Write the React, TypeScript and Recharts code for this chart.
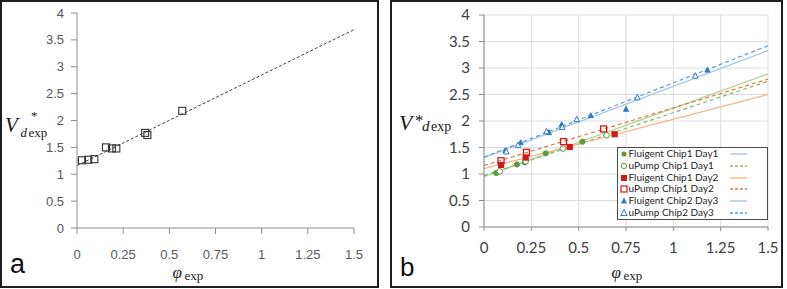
import React from 'react';
import { ComposedChart, Scatter, Line, XAxis, YAxis, CartesianGrid, Legend } from 'recharts';

// ---------- Panel a data ----------
const phiA = [0.027, 0.061, 0.094, 0.157, 0.189, 0.213, 0.369, 0.381, 0.57];
const vA = [1.26, 1.27, 1.28, 1.5, 1.48, 1.48, 1.77, 1.73, 2.18];
const fitA = [
  { x: 0, y: 1.16 },
  { x: 1.5, y: 3.69 },
];

// ---------- Panel b data ----------
const fc1d1X = [0.065, 0.174, 0.215, 0.326, 0.52];
const fc1d1Y = [1.02, 1.18, 1.22, 1.39, 1.61];
const uc1d1X = [0.083, 0.22, 0.417, 0.647];
const uc1d1Y = [1.05, 1.24, 1.48, 1.73];
const fc1d2X = [0.09, 0.22, 0.453, 0.69];
const fc1d2Y = [1.17, 1.31, 1.51, 1.75];
const uc1d2X = [0.09, 0.224, 0.42, 0.632];
const uc1d2Y = [1.25, 1.41, 1.61, 1.85];
const fc2d3X = [0.113, 0.194, 0.343, 0.41, 0.564, 0.75, 1.18];
const fc2d3Y = [1.44, 1.59, 1.78, 1.93, 2.1, 2.22, 2.96];
const uc2d3X = [0.118, 0.18, 0.33, 0.413, 0.49, 0.81, 1.116];
const uc2d3Y = [1.42, 1.54, 1.8, 1.88, 2.03, 2.44, 2.85];

// trend lines: [value at phi=0, value at phi=1.5]
const trendFc1d1 = [0.95, 2.89];
const trendUc1d1 = [0.97, 2.75];
const trendFc1d2 = [1.1, 2.5];
const trendUc1d2 = [1.16, 2.79];
const trendFc2d3 = [1.31, 3.33];
const trendUc2d3 = [1.32, 3.42];

const xTicks = [0, 0.25, 0.5, 0.75, 1, 1.25, 1.5];
const yTicks = [0, 0.5, 1, 1.5, 2, 2.5, 3, 3.5, 4];
const legendLabels = [
  'Fluigent Chip1 Day1',
  'uPump Chip1 Day1',
  'Fluigent Chip1 Day2',
  'uPump Chip1 Day2',
  'Fluigent Chip2 Day3',
  'uPump Chip2 Day3',
];

const zip = (xs: number[], ys: number[]) => xs.map((x, i) => ({ x, y: ys[i] }));
const seg = (t: number[]) => [
  { x: 0, y: t[0] },
  { x: 1.5, y: t[1] },
];

const GREEN = '#5e9a3c';
const RED = '#d01818';
const BLUE = '#2f7bc4';

const SERIF = "'Liberation Serif', 'DejaVu Serif', serif";
const SANS_A = "'Liberation Sans', Arial, sans-serif";
const SANS_B = "Lato, 'Open Sans', sans-serif";

const squareShape = (size: number, color: string, filled: boolean, sw = 1.2) => (p: any) => (
  <rect
    x={p.cx - size / 2}
    y={p.cy - size / 2}
    width={size}
    height={size}
    fill={filled ? color : 'none'}
    stroke={color}
    strokeWidth={sw}
  />
);
const circleShape = (r: number, color: string, filled: boolean) => (p: any) => (
  <circle cx={p.cx} cy={p.cy} r={r} fill={filled ? color : 'white'} stroke={color} strokeWidth={1} />
);
const triShape = (s: number, color: string, filled: boolean) => (p: any) => (
  <polygon
    points={`${p.cx},${p.cy - s * 0.6} ${p.cx - s / 2},${p.cy + s * 0.4} ${p.cx + s / 2},${p.cy + s * 0.4}`}
    fill={filled ? color : 'white'}
    stroke={color}
    strokeWidth={1}
  />
);

const legendItems = [
  { marker: 'circleF', color: GREEN, line: '#9dc3e6', dash: undefined },
  { marker: 'circleH', color: GREEN, line: '#8fb56b', dash: '3 2' },
  { marker: 'squareF', color: RED, line: '#f4b183', dash: undefined },
  { marker: 'squareH', color: RED, line: '#e07b39', dash: '3 2' },
  { marker: 'triF', color: BLUE, line: '#9dc3e6', dash: undefined },
  { marker: 'triH', color: BLUE, line: '#5b9bd5', dash: '3 2' },
];

const LegendMarker = ({ kind, color }: { kind: string; color: string }) => {
  if (kind === 'circleF') return <circle cx={5} cy={5} r={2.6} fill={color} />;
  if (kind === 'circleH') return <circle cx={5} cy={5} r={2.6} fill="white" stroke={color} strokeWidth={1} />;
  if (kind === 'squareF') return <rect x={2} y={2} width={6} height={6} fill={color} />;
  if (kind === 'squareH') return <rect x={2} y={2} width={6} height={6} fill="white" stroke={color} strokeWidth={1.2} />;
  if (kind === 'triF') return <polygon points="5,1.5 1.8,7.5 8.2,7.5" fill={color} />;
  return <polygon points="5,1.5 1.8,7.5 8.2,7.5" fill="white" stroke={color} strokeWidth={1} />;
};

const LegendBox = () => (
  <div
    style={{
      width: 151,
      height: 73,
      boxSizing: 'border-box',
      border: '1px solid #4a4a4a',
      background: 'white',
      fontFamily: SANS_B,
      fontSize: 10,
      color: '#262626',
    }}
  >
    {legendLabels.map((lab, i) => (
      <div key={lab} style={{ position: 'relative', height: 11.8, lineHeight: '11.8px' }}>
        <svg width={10} height={10} style={{ position: 'absolute', left: 0.5, top: 1 }}>
          <LegendMarker kind={legendItems[i].marker} color={legendItems[i].color} />
        </svg>
        <span style={{ position: 'absolute', left: 10.5, top: 0, whiteSpace: 'nowrap' }}>{lab}</span>
        <svg width={20} height={10} style={{ position: 'absolute', left: 111, top: 1 }}>
          <line x1={1} y1={5} x2={18} y2={5} stroke={legendItems[i].line} strokeWidth={1.3} strokeDasharray={legendItems[i].dash} />
        </svg>
      </div>
    ))}
  </div>
);

export default function App() {
  const dataA = zip(phiA, vA);
  return (
    <div style={{ position: 'absolute', left: 0, top: 0, width: 787, height: 289, background: 'white', overflow: 'hidden' }}>
      {/* panel borders */}
      <div style={{ position: 'absolute', left: 0, top: 0, width: 379, height: 288, boxSizing: 'border-box', border: '2px solid #1e1e1e' }} />
      <div style={{ position: 'absolute', left: 390, top: 0, width: 393, height: 288, boxSizing: 'border-box', border: '2px solid #1e1e1e' }} />

      {/* Panel a */}
      <div style={{ position: 'absolute', left: 0, top: 0 }}>
        <ComposedChart width={390} height={289} margin={{ top: 13, right: 36, bottom: 0, left: 0 }}>
          <XAxis
            type="number"
            dataKey="x"
            domain={[0, 1.5]}
            ticks={xTicks}
            height={61}
            stroke="#8c8c8c"
            tickSize={6}
            tickMargin={16}
            tick={{ fill: '#595959', fontSize: 13, fontFamily: SANS_A }}
            allowDataOverflow
          />
          <YAxis
            type="number"
            dataKey="y"
            domain={[0, 4]}
            ticks={yTicks}
            width={77}
            stroke="#8c8c8c"
            tickSize={6}
            tickMargin={7}
            tick={{ fill: '#595959', fontSize: 13, fontFamily: SANS_A }}
            allowDataOverflow
          />
          <Line data={fitA} dataKey="y" stroke="#404040" strokeWidth={1} strokeDasharray="3 2" dot={false} isAnimationActive={false} />
          <Scatter data={dataA} dataKey="y" shape={squareShape(7, '#333333', false, 1.1)} isAnimationActive={false} />
        </ComposedChart>
      </div>

      {/* Panel b */}
      <div style={{ position: 'absolute', left: 390, top: 0 }}>
        <ComposedChart width={397} height={289} margin={{ top: 15, right: 19, bottom: 0, left: 0 }}>
          <CartesianGrid stroke="#dcdcdc" strokeWidth={1} />
          <XAxis
            type="number"
            dataKey="x"
            domain={[0, 1.5]}
            ticks={xTicks}
            height={62}
            stroke="#8c8c8c"
            tickSize={4}
            tickMargin={11}
            tick={{ fill: '#404040', fontSize: 15, fontFamily: SANS_B }}
            allowDataOverflow
          />
          <YAxis
            type="number"
            dataKey="y"
            domain={[0, 4]}
            ticks={yTicks}
            width={94}
            stroke="#8c8c8c"
            tickSize={5}
            tickMargin={9}
            tick={{ fill: '#404040', fontSize: 15, fontFamily: SANS_B }}
            allowDataOverflow
          />
          <Line data={seg(trendFc1d1)} dataKey="y" stroke="#a9d18e" strokeWidth={1.2} dot={false} isAnimationActive={false} />
          <Line data={seg(trendUc1d1)} dataKey="y" stroke="#8fb56b" strokeWidth={1.2} strokeDasharray="4 3" dot={false} isAnimationActive={false} />
          <Line data={seg(trendFc1d2)} dataKey="y" stroke="#f4b183" strokeWidth={1.2} dot={false} isAnimationActive={false} />
          <Line data={seg(trendUc1d2)} dataKey="y" stroke="#e07b39" strokeWidth={1.2} strokeDasharray="4 3" dot={false} isAnimationActive={false} />
          <Line data={seg(trendFc2d3)} dataKey="y" stroke="#9dc3e6" strokeWidth={1.2} dot={false} isAnimationActive={false} />
          <Line data={seg(trendUc2d3)} dataKey="y" stroke="#5b9bd5" strokeWidth={1.2} strokeDasharray="4 3" dot={false} isAnimationActive={false} />
          <Scatter data={zip(fc1d1X, fc1d1Y)} dataKey="y" shape={circleShape(2.6, GREEN, true)} isAnimationActive={false} />
          <Scatter data={zip(uc1d1X, uc1d1Y)} dataKey="y" shape={circleShape(2.8, GREEN, false)} isAnimationActive={false} />
          <Scatter data={zip(fc1d2X, fc1d2Y)} dataKey="y" shape={squareShape(5, RED, true)} isAnimationActive={false} />
          <Scatter data={zip(uc1d2X, uc1d2Y)} dataKey="y" shape={squareShape(6, RED, false, 1.3)} isAnimationActive={false} />
          <Scatter data={zip(fc2d3X, fc2d3Y)} dataKey="y" shape={triShape(5, BLUE, true)} isAnimationActive={false} />
          <Scatter data={zip(uc2d3X, uc2d3Y)} dataKey="y" shape={triShape(5.5, BLUE, false)} isAnimationActive={false} />
          <Legend
            layout="horizontal"
            verticalAlign="middle"
            align="center"
            content={() => <LegendBox />}
            wrapperStyle={{ left: 227, top: 147, width: 151, height: 73 }}
          />
        </ComposedChart>
      </div>

      {/* axis titles and panel letters */}
      <svg width={787} height={289} style={{ position: 'absolute', left: 0, top: 0, pointerEvents: 'none' }}>
        <text x={5} y={132} fontFamily={SERIF} fontStyle="italic" fontSize={21} fill="#1a1a1a">V</text>
        <text x={31} y={120} fontFamily={SERIF} fontSize={13} fill="#1a1a1a">*</text>
        <text x={20.5} y={137} fontFamily={SERIF} fontStyle="italic" fontSize={13} fill="#1a1a1a">d</text>
        <text x={28.5} y={137} fontFamily={SERIF} fontSize={13} fill="#1a1a1a">exp</text>
        <text x={172.5} y={278} fontFamily={SERIF} fontStyle="italic" fontSize={17} fill="#1a1a1a">φ</text>
        <text x={184.5} y={280} fontFamily={SERIF} fontSize={13} fill="#1a1a1a">exp</text>
        <text x={10} y={272.5} fontFamily={SANS_A} fontSize={27} fill="#111">a</text>

        <text x={399} y={130} fontFamily={SERIF} fontStyle="italic" fontSize={22} fill="#1a1a1a">V</text>
        <text x={415} y={126} fontFamily={SERIF} fontSize={17} fill="#1a1a1a">*</text>
        <text x={422} y={131} fontFamily={SERIF} fontStyle="italic" fontSize={15} fill="#1a1a1a">d</text>
        <text x={431} y={131} fontFamily={SERIF} fontSize={14} fill="#1a1a1a">exp</text>
        <text x={611.5} y={278} fontFamily={SERIF} fontStyle="italic" fontSize={17} fill="#1a1a1a">φ</text>
        <text x={623.5} y={280} fontFamily={SERIF} fontSize={13} fill="#1a1a1a">exp</text>
        <text x={400} y={276} fontFamily={SANS_A} fontSize={26} fill="#111">b</text>
      </svg>
    </div>
  );
}
